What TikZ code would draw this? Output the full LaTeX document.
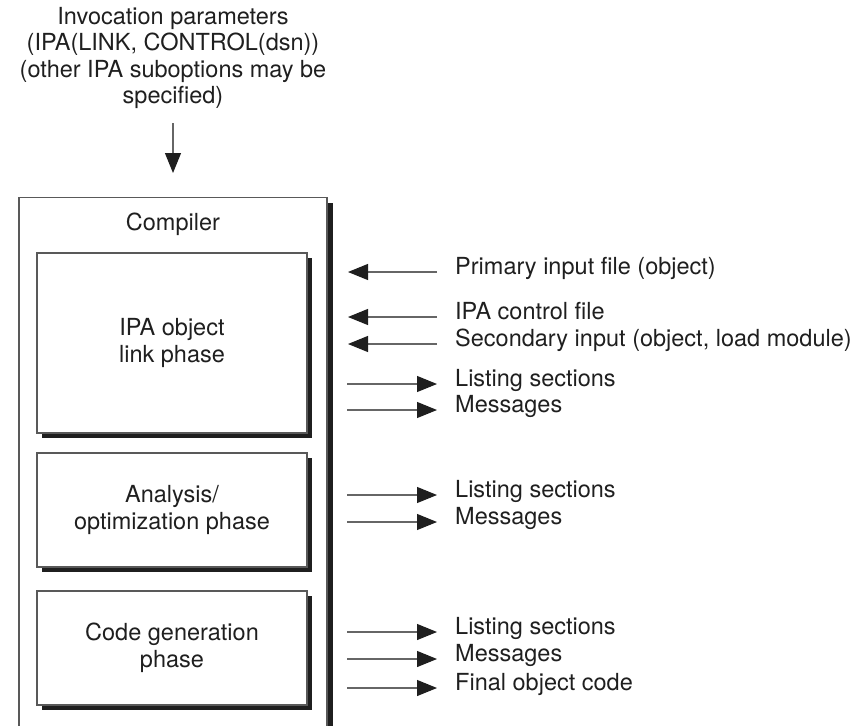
\documentclass[tikz,border=0pt]{standalone}
\usepackage{fontspec}
\setmainfont{TeX Gyre Heros}
\usetikzlibrary{arrows.meta,shadows}
\begin{document}
\begin{tikzpicture}[x=1pt,y=-1pt,
  every node/.style={font=\fontsize{23.5}{26.5}\selectfont, text=black!88},
  phasebox/.style={draw=black!65, line width=1.1pt, fill=white, minimum width=270pt, align=center,
     drop shadow={shadow xshift=4.5pt, shadow yshift=-4.5pt, fill=black!88, opacity=1}},
  outerbox/.style={draw=black!65, line width=1.1pt, fill=white, minimum width=308pt, minimum height=600pt,
     drop shadow={shadow xshift=5.5pt, shadow yshift=-5.5pt, fill=black!88, opacity=1}},
  lab/.style={anchor=west, inner sep=0pt, text height=0.75em, text depth=0.25em},
  arr/.style={draw=black!60, line width=1.1pt, -{Triangle[length=20pt,width=16pt,color=black!88]}}
]
\useasboundingbox (0,0) rectangle (861,725);
\clip (0,0) rectangle (861,725);

% invocation text
\node[align=center, anchor=north, inner sep=0pt] (inv) at (173,7)
  {Invocation parameters\\(IPA(LINK, CONTROL(dsn))\\(other IPA suboptions may be\\specified)};
\coordinate (invend) at (173,173);
\draw[arr] (173,123) -- (invend);

% compiler box
\node[outerbox, anchor=north] (comp) at (173,197) {};
\node[inner sep=0pt] (complab) at (173,224) {Compiler};

\node[phasebox, minimum height=180pt] (b1) at (172,343) {IPA object\\link phase};
\node[phasebox, minimum height=114pt] (b2) at (172,510) {Analysis/\\optimization phase};
\node[phasebox, minimum height=114pt] (b3) at (172,648) {Code generation\\phase};

% labels
\node[lab] (l1) at (455,272) {Primary input file (object)};
\node[lab] (l2) at (455,317) {IPA control file};
\node[lab] (l3) at (455,344) {Secondary input (object, load module)};
\node[lab] (l4) at (455,384) {Listing sections};
\node[lab] (l5) at (455,410) {Messages};
\node[lab] (l6) at (455,495) {Listing sections};
\node[lab] (l7) at (455,522) {Messages};
\node[lab] (l8) at (455,632) {Listing sections};
\node[lab] (l9) at (455,659) {Messages};
\node[lab] (l10) at (455,688) {Final object code};

\foreach \n in {l1,l2,l3}
  \draw[arr] ([xshift=-18pt]\n.west) -- ([xshift=-107pt]\n.west);
\foreach \n in {l4,l5,l6,l7,l8,l9,l10}
  \draw[arr] ([xshift=-108pt]\n.west) -- ([xshift=-18pt]\n.west);
\end{tikzpicture}
\end{document}
